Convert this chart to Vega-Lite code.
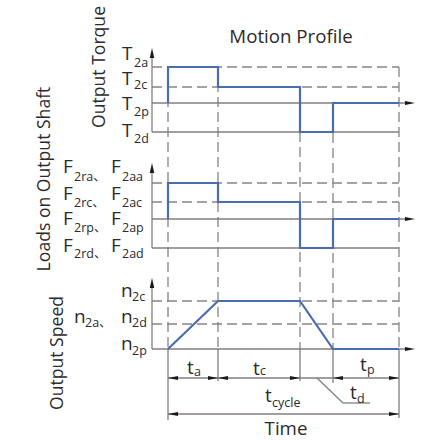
{
  "$schema": "https://vega.github.io/schema/vega-lite/v6.json",
  "width": 424,
  "height": 440,
  "padding": 0,
  "autosize": {"type": "none"},
  "background": "white",
  "config": {"view": {"stroke": null}},
  "datasets": {
    "solid": [
      {"x": 152, "y": 57, "x2": 152, "y2": 132},
      {"x": 152, "y": 103, "x2": 407, "y2": 103},
      {"x": 152, "y": 132, "x2": 399, "y2": 132},
      {"x": 152, "y": 172, "x2": 152, "y2": 248},
      {"x": 152, "y": 219, "x2": 407, "y2": 219},
      {"x": 152, "y": 248, "x2": 399, "y2": 248},
      {"x": 152, "y": 287, "x2": 152, "y2": 349},
      {"x": 152, "y": 349, "x2": 407, "y2": 349},
      {"x": 168, "y": 349, "x2": 168, "y2": 420},
      {"x": 399, "y": 349, "x2": 399, "y2": 418},
      {"x": 218, "y": 349, "x2": 218, "y2": 381},
      {"x": 300, "y": 349, "x2": 300, "y2": 381},
      {"x": 333, "y": 349, "x2": 333, "y2": 383},
      {"x": 168, "y": 378, "x2": 399, "y2": 378},
      {"x": 168, "y": 414, "x2": 399, "y2": 414},
      {"x": 317, "y": 378, "x2": 343, "y2": 403},
      {"x": 343, "y": 403, "x2": 370, "y2": 403}
    ],
    "dashed": [
      {"x": 168, "y": 67, "x2": 168, "y2": 349},
      {"x": 218, "y": 67, "x2": 218, "y2": 349},
      {"x": 300, "y": 87, "x2": 300, "y2": 349},
      {"x": 333, "y": 103, "x2": 333, "y2": 349},
      {"x": 399, "y": 67, "x2": 399, "y2": 349},
      {"x": 152, "y": 67, "x2": 399, "y2": 67},
      {"x": 152, "y": 87, "x2": 399, "y2": 87},
      {"x": 152, "y": 183, "x2": 399, "y2": 183},
      {"x": 152, "y": 202, "x2": 399, "y2": 202},
      {"x": 152, "y": 301, "x2": 399, "y2": 301},
      {"x": 152, "y": 324, "x2": 399, "y2": 324}
    ],
    "profile": [
      {"p": "torque", "i": 0, "x": 168, "y": 103},
      {"p": "torque", "i": 1, "x": 168, "y": 67},
      {"p": "torque", "i": 2, "x": 218, "y": 67},
      {"p": "torque", "i": 3, "x": 218, "y": 87},
      {"p": "torque", "i": 4, "x": 300, "y": 87},
      {"p": "torque", "i": 5, "x": 300, "y": 132},
      {"p": "torque", "i": 6, "x": 333, "y": 132},
      {"p": "torque", "i": 7, "x": 333, "y": 103},
      {"p": "torque", "i": 8, "x": 399, "y": 103},
      {"p": "load", "i": 0, "x": 168, "y": 219},
      {"p": "load", "i": 1, "x": 168, "y": 183},
      {"p": "load", "i": 2, "x": 218, "y": 183},
      {"p": "load", "i": 3, "x": 218, "y": 202},
      {"p": "load", "i": 4, "x": 300, "y": 202},
      {"p": "load", "i": 5, "x": 300, "y": 248},
      {"p": "load", "i": 6, "x": 333, "y": 248},
      {"p": "load", "i": 7, "x": 333, "y": 219},
      {"p": "load", "i": 8, "x": 399, "y": 219},
      {"p": "speed", "i": 0, "x": 168, "y": 349},
      {"p": "speed", "i": 1, "x": 218, "y": 301},
      {"p": "speed", "i": 2, "x": 300, "y": 301},
      {"p": "speed", "i": 3, "x": 333, "y": 349},
      {"p": "speed", "i": 4, "x": 399, "y": 349}
    ],
    "arrows": [
      {"x": 152, "y": 48, "dir": "up"},
      {"x": 152, "y": 163, "dir": "up"},
      {"x": 152, "y": 278, "dir": "up"},
      {"x": 415, "y": 103, "dir": "right"},
      {"x": 415, "y": 219, "dir": "right"},
      {"x": 415, "y": 349, "dir": "right"},
      {"x": 218, "y": 378, "dir": "right"},
      {"x": 300, "y": 378, "dir": "right"},
      {"x": 399, "y": 378, "dir": "right"},
      {"x": 399, "y": 414, "dir": "right"},
      {"x": 168, "y": 378, "dir": "left"},
      {"x": 218, "y": 378, "dir": "left"},
      {"x": 333, "y": 378, "dir": "left"},
      {"x": 168, "y": 414, "dir": "left"}
    ],
    "mainText": [
      {"x": 122, "y": 60, "s": "T"},
      {"x": 122, "y": 85, "s": "T"},
      {"x": 122, "y": 110, "s": "T"},
      {"x": 122, "y": 137, "s": "T"},
      {"x": 63, "y": 173, "s": "F"},
      {"x": 111, "y": 173, "s": "F"},
      {"x": 63, "y": 200, "s": "F"},
      {"x": 111, "y": 200, "s": "F"},
      {"x": 63, "y": 225, "s": "F"},
      {"x": 111, "y": 225, "s": "F"},
      {"x": 63, "y": 252, "s": "F"},
      {"x": 111, "y": 252, "s": "F"},
      {"x": 121, "y": 297, "s": "n"},
      {"x": 74, "y": 323, "s": "n"},
      {"x": 121, "y": 323, "s": "n"},
      {"x": 121, "y": 350, "s": "n"},
      {"x": 187, "y": 374, "s": "t"},
      {"x": 253, "y": 375, "s": "t"},
      {"x": 360, "y": 371, "s": "t"},
      {"x": 350, "y": 399, "s": "t"},
      {"x": 265, "y": 402, "s": "t"}
    ],
    "subText": [
      {"x": 134, "y": 67, "s": "2a"},
      {"x": 134, "y": 89, "s": "2c"},
      {"x": 134, "y": 116, "s": "2p"},
      {"x": 134, "y": 143, "s": "2d"},
      {"x": 74, "y": 181, "s": "2ra、"},
      {"x": 122, "y": 181, "s": "2aa"},
      {"x": 74, "y": 207, "s": "2rc、"},
      {"x": 122, "y": 207, "s": "2ac"},
      {"x": 74, "y": 232, "s": "2rp、"},
      {"x": 122, "y": 232, "s": "2ap"},
      {"x": 74, "y": 258, "s": "2rd、"},
      {"x": 122, "y": 258, "s": "2ad"},
      {"x": 132, "y": 301, "s": "2c"},
      {"x": 85, "y": 327, "s": "2a、"},
      {"x": 132, "y": 327, "s": "2d"},
      {"x": 132, "y": 355, "s": "2p"},
      {"x": 194, "y": 376, "s": "a"},
      {"x": 260, "y": 375, "s": "c"},
      {"x": 367, "y": 374, "s": "p"},
      {"x": 357, "y": 403, "s": "d"},
      {"x": 272, "y": 407, "s": "cycle"}
    ],
    "titles": [
      {"x": 291, "y": 43, "s": "Motion Profile"},
      {"x": 286, "y": 435, "s": "Time"}
    ],
    "sideTitles": [
      {"x": 105, "y": 67, "s": "Output Torque"},
      {"x": 50, "y": 179, "s": "Loads on Output Shaft"},
      {"x": 63, "y": 353, "s": "Output Speed"}
    ]
  },
  "encoding": {
    "x": {"field": "x", "type": "quantitative", "scale": {"domain": [0, 424], "nice": false, "zero": false}, "axis": null},
    "y": {"field": "y", "type": "quantitative", "scale": {"domain": [0, 440], "reverse": true, "nice": false, "zero": false}, "axis": null}
  },
  "layer": [
    {
      "data": {"name": "dashed"},
      "mark": {"type": "rule", "color": "#8a8282", "strokeWidth": 1.3, "strokeDash": [10, 5]},
      "encoding": {"x2": {"field": "x2"}, "y2": {"field": "y2"}}
    },
    {
      "data": {"name": "solid"},
      "mark": {"type": "rule", "color": "#857d7d", "strokeWidth": 1.3},
      "encoding": {"x2": {"field": "x2"}, "y2": {"field": "y2"}}
    },
    {
      "data": {"name": "profile"},
      "mark": {"type": "line", "color": "#4a6cb3", "strokeWidth": 2.2, "strokeJoin": "miter"},
      "encoding": {"detail": {"field": "p"}, "order": {"field": "i", "type": "quantitative"}}
    },
    {
      "data": {"name": "arrows"},
      "mark": {"type": "point", "filled": true, "opacity": 1, "size": 100, "color": "#1a1a1a", "strokeWidth": 0},
      "encoding": {
        "shape": {
          "field": "dir", "type": "nominal", "legend": null,
          "scale": {"domain": ["up", "right", "left"], "range": ["M0,0L0.45,2L-0.45,2Z", "M0,0L-2,-0.42L-2,0.42Z", "M0,0L2,-0.42L2,0.42Z"]}
        }
      }
    },
    {
      "data": {"name": "mainText"},
      "mark": {"type": "text", "font": "Open Sans", "fontSize": 19, "align": "left", "baseline": "alphabetic", "color": "#2b2b2b"},
      "encoding": {"text": {"field": "s"}}
    },
    {
      "data": {"name": "subText"},
      "mark": {"type": "text", "font": "Open Sans, Noto Sans CJK SC", "fontSize": 12.5, "align": "left", "baseline": "alphabetic", "color": "#2b2b2b"},
      "encoding": {"text": {"field": "s"}}
    },
    {
      "data": {"name": "titles"},
      "mark": {"type": "text", "font": "Open Sans", "fontSize": 18.7, "align": "center", "baseline": "alphabetic", "color": "#2b2b2b"},
      "encoding": {"text": {"field": "s"}}
    },
    {
      "data": {"name": "sideTitles"},
      "mark": {"type": "text", "font": "Open Sans", "fontSize": 17.6, "angle": 270, "align": "center", "baseline": "alphabetic", "color": "#2b2b2b"},
      "encoding": {"text": {"field": "s"}}
    }
  ]
}
